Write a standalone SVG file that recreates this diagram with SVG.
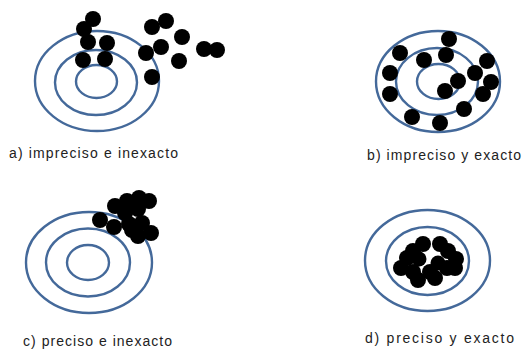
<svg xmlns="http://www.w3.org/2000/svg" width="522" height="350" viewBox="0 0 522 350">
<style>
.ring{fill:none;stroke:#44699a;stroke-width:2.4}
.dot{fill:#000}
.lbl{font-family:"Liberation Sans",Arial,sans-serif;font-size:14px;fill:#222}
</style>
<rect width="522" height="350" fill="#fff"/>
<g id="target-a">
<ellipse class="ring" cx="97" cy="81" rx="62" ry="50"/>
<ellipse class="ring" cx="96" cy="82.5" rx="41" ry="32.5"/>
<ellipse class="ring" cx="96.5" cy="81.5" rx="20.5" ry="16.5"/>
<g class="dot">
<circle cx="93" cy="19" r="8"/><circle cx="84" cy="29" r="8"/><circle cx="88" cy="42" r="8"/>
<circle cx="107" cy="43" r="8"/><circle cx="83" cy="60" r="8"/><circle cx="105" cy="59" r="8"/>
<circle cx="152" cy="27" r="8"/><circle cx="166" cy="21" r="8"/><circle cx="182" cy="37" r="8"/>
<circle cx="161" cy="47" r="8"/><circle cx="146" cy="53" r="8"/><circle cx="179" cy="61" r="8"/>
<circle cx="152" cy="77" r="8"/><circle cx="204" cy="49" r="8"/><circle cx="217" cy="50" r="8"/>
</g>
<text class="lbl" x="9" y="158" textLength="169" lengthAdjust="spacing">a) impreciso e inexacto</text>
</g>
<g id="target-b">
<ellipse class="ring" cx="438" cy="81.5" rx="62" ry="50.5"/>
<ellipse class="ring" cx="437" cy="81.5" rx="41" ry="33.5"/>
<ellipse class="ring" cx="438.5" cy="81.5" rx="21.5" ry="17.5"/>
<g class="dot">
<circle cx="449" cy="39" r="8"/><circle cx="400" cy="53" r="8"/><circle cx="424" cy="60" r="8"/>
<circle cx="446" cy="55" r="8"/><circle cx="487" cy="61" r="8"/><circle cx="390" cy="73" r="8"/>
<circle cx="475" cy="73" r="8"/><circle cx="458" cy="81" r="8"/><circle cx="491" cy="82" r="8"/>
<circle cx="390" cy="94" r="8"/><circle cx="445" cy="91" r="8"/><circle cx="483" cy="94" r="8"/>
<circle cx="464" cy="109" r="8"/><circle cx="412" cy="117" r="8"/><circle cx="440" cy="123" r="8"/>
</g>
<text class="lbl" x="367" y="160" textLength="154" lengthAdjust="spacing">b) impreciso y exacto</text>
</g>
<g id="target-c">
<ellipse class="ring" cx="89" cy="262.5" rx="63" ry="50.5"/>
<ellipse class="ring" cx="88" cy="262.5" rx="42" ry="34"/>
<ellipse class="ring" cx="88" cy="262.5" rx="21" ry="17.5"/>
<g class="dot">
<circle cx="100" cy="220" r="8"/><circle cx="114" cy="227" r="8"/><circle cx="115" cy="206" r="8"/>
<circle cx="127" cy="201" r="8"/><circle cx="139" cy="198" r="8"/><circle cx="149" cy="201" r="8"/>
<circle cx="138" cy="209" r="8"/><circle cx="125" cy="213" r="8"/><circle cx="129" cy="224" r="8"/>
<circle cx="142" cy="223" r="8"/><circle cx="151" cy="233" r="8"/><circle cx="138" cy="236" r="8"/>
<circle cx="132" cy="230" r="8"/>
</g>
<text class="lbl" x="23" y="346" textLength="149" lengthAdjust="spacing">c) preciso e inexacto</text>
</g>
<g id="target-d">
<ellipse class="ring" cx="427.5" cy="260.5" rx="62.5" ry="50.5"/>
<ellipse class="ring" cx="427.5" cy="261" rx="41.5" ry="34"/>
<g class="dot">
<circle cx="423" cy="244" r="8"/><circle cx="440" cy="244" r="8"/><circle cx="413" cy="251" r="8"/>
<circle cx="448" cy="251" r="8"/><circle cx="407" cy="258" r="8"/><circle cx="456" cy="259" r="8"/>
<circle cx="419" cy="259" r="7.5"/><circle cx="438" cy="263" r="7.5"/><circle cx="401" cy="268" r="8"/>
<circle cx="413" cy="272" r="8"/><circle cx="430" cy="272" r="8"/><circle cx="447" cy="268" r="8"/>
<circle cx="455" cy="268" r="8"/><circle cx="418" cy="280" r="8"/><circle cx="435" cy="278" r="8"/>
</g>
<text class="lbl" x="365" y="343" textLength="149" lengthAdjust="spacing">d) preciso y exacto</text>
</g>
</svg>
